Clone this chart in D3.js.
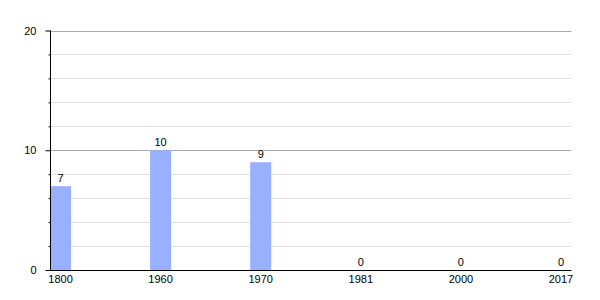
<!DOCTYPE html>
<html><head><meta charset="utf-8">
<script src="https://cdn.jsdelivr.net/npm/d3@7"></script>
<style>body{margin:0;background:#fff}svg{display:block}text{font-family:"Liberation Sans",Arial,sans-serif;font-size:11px;fill:#000}</style>
</head><body>
<script>
const categories = ["1800","1960","1970","1981","2000","2017"];
const values = [7,10,9,0,0,0];
const majorTicks = [0,10,20];
const minorTicks = [2,4,6,8,12,14,16,18];

const W=600,H=300;
const svg=d3.select("body").append("svg").attr("width",W).attr("height",H);
const mLeft=50,mRight=571.5,mTop=30.5,mBottom=270;
const x=d3.scaleBand().domain(categories).range([mLeft,mRight]).paddingInner(0.79).paddingOuter(0);
const y=d3.scaleLinear().domain([0,20]).range([mBottom,mTop]);

// grid
svg.append("g").selectAll("line").data(minorTicks).join("line")
 .attr("x1",mLeft).attr("x2",mRight).attr("y1",d=>Math.round(y(d))+0.5).attr("y2",d=>Math.round(y(d))+0.5)
 .attr("stroke","#e0e0e0").attr("stroke-width",1);
svg.append("g").selectAll("line").data(majorTicks.filter(d=>d>0)).join("line")
 .attr("x1",mLeft).attr("x2",mRight).attr("y1",d=>Math.round(y(d))+0.5).attr("y2",d=>Math.round(y(d))+0.5)
 .attr("stroke","#aaaaaa").attr("stroke-width",1);

// bars
svg.append("g").selectAll("rect").data(values).join("rect")
 .attr("x",(d,i)=>x(categories[i])).attr("width",x.bandwidth())
 .attr("y",d=>y(d)).attr("height",d=>mBottom-y(d)).attr("fill","#99b0ff");

// value labels
svg.append("g").selectAll("text").data(values).join("text")
 .attr("x",(d,i)=>x(categories[i])+x.bandwidth()/2).attr("y",d=>y(d)-4)
 .attr("text-anchor","middle").text(d=>d);

// y axis
const yAxisMajor=d3.axisLeft(y).tickValues(majorTicks).tickSize(5).tickPadding(9).tickSizeOuter(0);
const gy=svg.append("g").attr("transform",`translate(${mLeft+0.5},0)`).call(yAxisMajor);
gy.select(".domain").remove();
gy.attr("font-family",null).attr("font-size",null);
svg.append("g").attr("transform",`translate(${mLeft+0.5},0)`)
 .call(d3.axisLeft(y).tickValues(minorTicks).tickSize(2).tickFormat("")).select(".domain").remove();
svg.append("line").attr("x1",mLeft+0.5).attr("x2",mLeft+0.5).attr("y1",mTop).attr("y2",mBottom).attr("stroke","#000");

// x axis
const gx=svg.append("g").attr("transform",`translate(0,${mBottom+0.5})`)
 .call(d3.axisBottom(x).tickSize(0).tickPadding(5).tickSizeOuter(0));
gx.attr("font-family",null).attr("font-size",null);
gx.select(".domain").attr("d",`M${mLeft},0H${mRight}`).attr("stroke","#000");
</script>
</body></html>
